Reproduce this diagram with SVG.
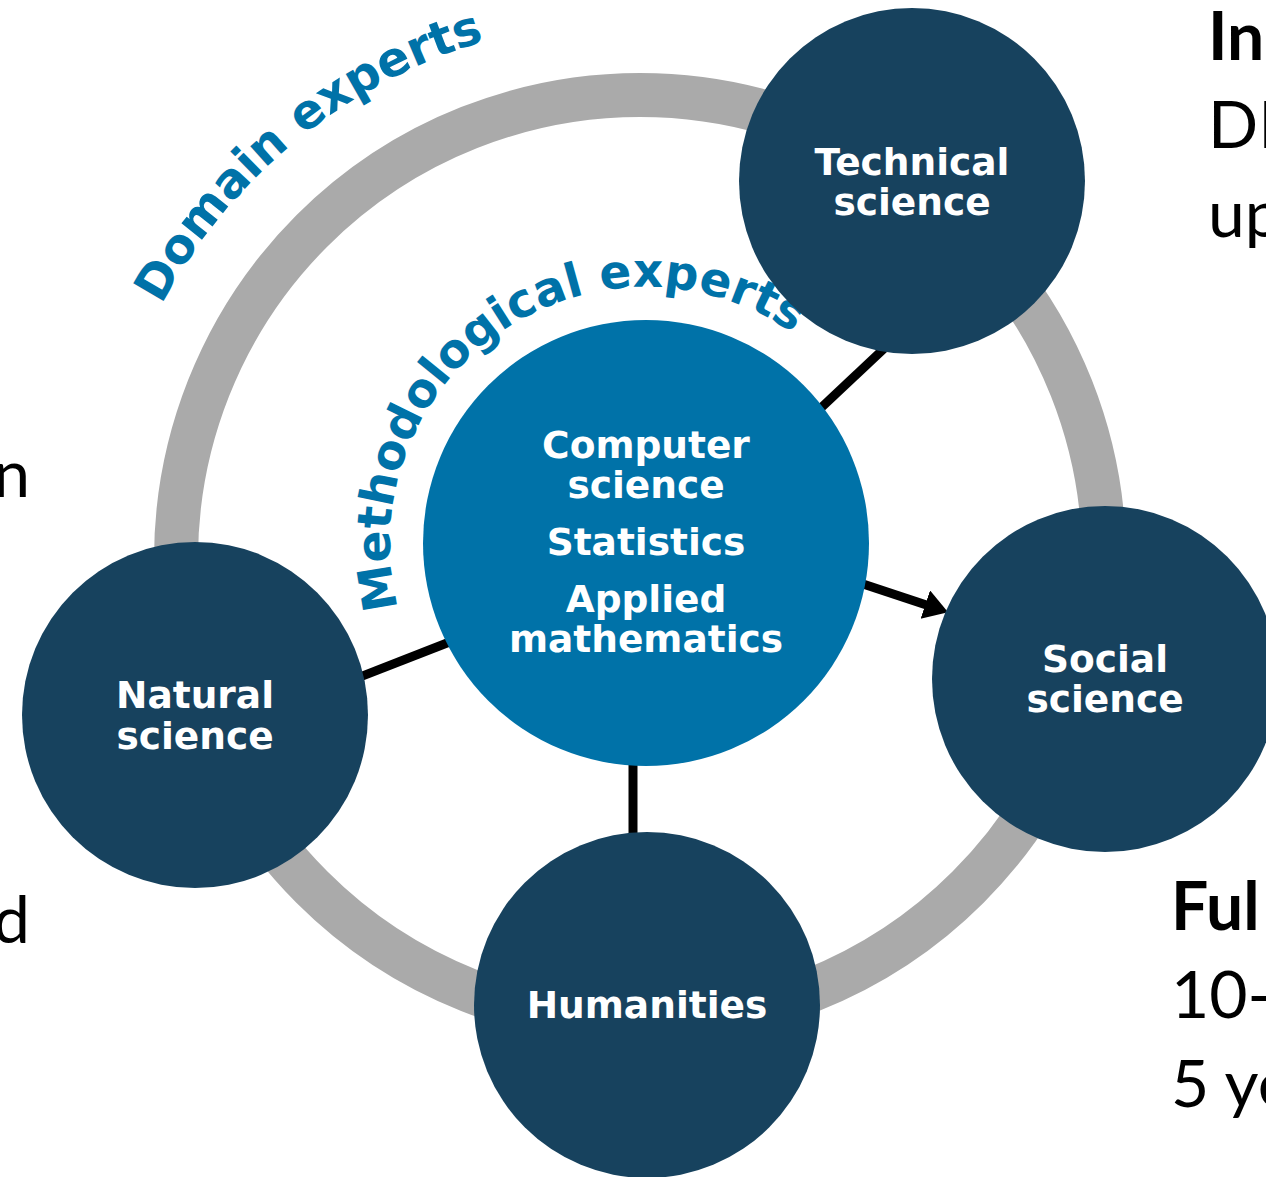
<svg xmlns="http://www.w3.org/2000/svg" xmlns:xlink="http://www.w3.org/1999/xlink" width="1266" height="1177" viewBox="0 0 1266 1177">
<style>
.ring{fill:none;stroke:#AAAAAA;stroke-width:44}
.dark{fill:#17425E}
.center{fill:#0072A8}
.lbl{font-family:"DejaVu Sans",Verdana,sans-serif;font-weight:bold;font-size:37.5px;fill:#FFFFFF;text-anchor:middle}
.arc{font-family:"DejaVu Sans",Verdana,sans-serif;font-weight:bold;fill:#0072A8}
.conn{stroke:#000000;stroke-width:9;fill:none}
.side{font-family:Lato,"Open Sans",sans-serif;font-size:66px;fill:#000000}
.sideb{font-family:Lato,"Open Sans",sans-serif;font-size:66px;font-weight:bold;fill:#000000}
</style>
<defs>
<marker id="arrow" markerUnits="userSpaceOnUse" markerWidth="32" markerHeight="32" refX="6" refY="15" orient="auto">
<path d="M0,0 L24,15 L0,30 z" fill="#000000"/>
</marker>
<path id="domainArc" d="M130.6,374.3 A540,540 0 0 1 685.1,21.1"/>
<path id="methodArc" d="M424.3,671 A256,256 0 0 1 842.1,378.4"/>
</defs>
<rect width="1266" height="1177" fill="#FFFFFF"/>
<circle class="ring" cx="640" cy="559" r="464"/>
<g id="arc-labels">
<text class="arc" font-size="48"><textPath xlink:href="#domainArc" href="#domainArc" startOffset="76">Domain experts</textPath></text>
<text class="arc" font-size="47"><textPath xlink:href="#methodArc" href="#methodArc" startOffset="68">Methodological experts</textPath></text>
</g>
<g id="connectors">
<line class="conn" x1="814.7" y1="413.8" x2="890" y2="343"/>
<line class="conn" x1="355.7" y1="678.6" x2="456" y2="639.5"/>
<line class="conn" x1="633" y1="760" x2="633" y2="840"/>
<line class="conn" x1="860" y1="583" x2="931" y2="606.5" marker-end="url(#arrow)"/>
</g>
<g id="node-center">
<circle class="center" cx="646" cy="543" r="223"/>
<text class="lbl" x="646" y="458">Computer</text>
<text class="lbl" x="646" y="498">science</text>
<text class="lbl" x="646" y="555">Statistics</text>
<text class="lbl" x="646" y="612">Applied</text>
<text class="lbl" x="646" y="652">mathematics</text>
</g>
<g id="node-technical">
<circle class="dark" cx="912" cy="181" r="173"/>
<text class="lbl" x="912" y="175">Technical</text>
<text class="lbl" x="912" y="215">science</text>
</g>
<g id="node-social">
<circle class="dark" cx="1105" cy="679" r="173"/>
<text class="lbl" x="1105" y="672">Social</text>
<text class="lbl" x="1105" y="712">science</text>
</g>
<g id="node-humanities">
<circle class="dark" cx="647" cy="1005" r="173"/>
<text class="lbl" x="647" y="1018">Humanities</text>
</g>
<g id="node-natural">
<circle class="dark" cx="195" cy="715" r="173"/>
<text class="lbl" x="195" y="708">Natural</text>
<text class="lbl" x="195" y="749">science</text>
</g>
<g id="side-text">
<text class="sideb" x="1208" y="60">In</text>
<text class="side" x="1208" y="148">DI</text>
<text class="side" x="1208" y="237">up</text>
<text class="sideb" x="1171" y="930">Ful</text>
<text class="side" x="1171" y="1018">10-</text>
<text class="side" x="1171" y="1107">5 ye</text>
<text class="side" x="30" y="497" text-anchor="end">n</text>
<text class="side" x="30" y="943" text-anchor="end">d</text>
</g>
</svg>
